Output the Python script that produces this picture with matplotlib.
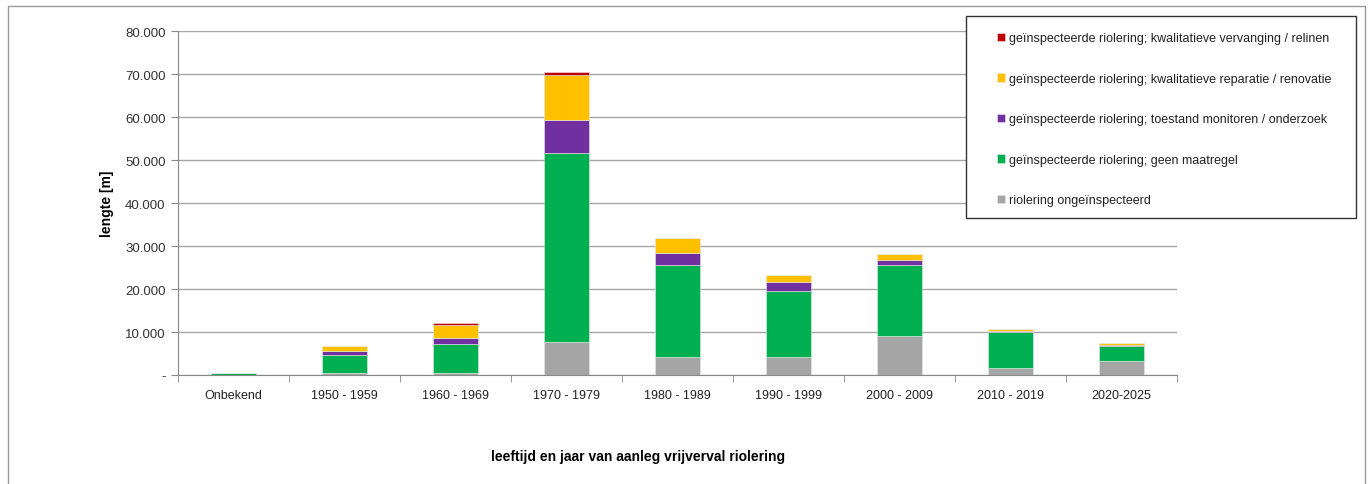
import numpy as np
import matplotlib
matplotlib.use('Agg')
import matplotlib.pyplot as plt
from matplotlib.patches import Rectangle
from matplotlib.ticker import FuncFormatter

plt.rcParams['font.family'] = ['Liberation Sans', 'DejaVu Sans']

# Data (lengte in m)
categories = ['Onbekend', '1950 - 1959', '1960 - 1969', '1970 - 1979', '1980 - 1989',
              '1990 - 1999', '2000 - 2009', '2010 - 2019', '2020-2025']
ongeinspecteerd = [50, 500, 500, 7600, 4100, 4300, 9100, 1550, 3300]
geen_maatregel = [350, 4200, 6700, 44100, 21600, 15200, 16500, 8550, 3500]
monitoren = [0, 900, 1300, 7700, 2800, 2100, 1100, 200, 150]
reparatie = [0, 1100, 3100, 10400, 3300, 1600, 1400, 400, 450]
vervanging = [0, 0, 600, 700, 0, 0, 0, 50, 50]

series = [
    ('riolering ongeïnspecteerd', ongeinspecteerd, '#A5A5A5'),
    ('geïnspecteerde riolering; geen maatregel', geen_maatregel, '#00B050'),
    ('geïnspecteerde riolering; toestand monitoren / onderzoek', monitoren, '#7030A0'),
    ('geïnspecteerde riolering; kwalitatieve reparatie / renovatie', reparatie, '#FFC000'),
    ('geïnspecteerde riolering; kwalitatieve vervanging / relinen', vervanging, '#C00000'),
]

fig = plt.figure(figsize=(13.7, 4.85), dpi=100)
ax = fig.add_axes([0.130, 0.2247, 0.729, 0.709])

x = np.arange(len(categories))
bottom = np.zeros(len(categories))
handles = []
for name, vals, color in series:
    vals = np.array(vals, dtype=float)
    b = ax.bar(x, vals, width=0.41, bottom=bottom, color=color, label=name,
               edgecolor='#e8e8e8', linewidth=0.4, zorder=3)
    handles.append(b)
    bottom += vals

ax.set_xlim(-0.5, len(categories) - 0.5)
ax.set_ylim(0, 80000)
ax.set_yticks(np.arange(0, 80001, 10000))
ax.yaxis.set_major_formatter(FuncFormatter(
    lambda v, p: '-' if v == 0 else f'{int(v):,}'.replace(',', '.')))
ax.grid(axis='y', color='#a6a6a6', linewidth=1.0, zorder=0)

ax.set_xticks(x)
ax.set_xticklabels(categories)
ax.set_xticks(np.arange(-0.5, len(categories), 1), minor=True)
ax.tick_params(axis='x', which='major', length=0, pad=10, labelsize=9, colors='#222222')
ax.tick_params(axis='x', which='minor', length=5, color='#888888')
ax.tick_params(axis='y', length=5, color='#888888', labelsize=9.5, labelcolor='#333333', pad=4)

for s in ['top', 'right']:
    ax.spines[s].set_visible(False)
ax.spines['left'].set_color('#888888')
ax.spines['bottom'].set_color('#888888')

ax.set_ylabel('lengte [m]', fontsize=10, fontweight='bold', labelpad=8)
fig.text(0.466, 0.058, 'leeftijd en jaar van aanleg vrijverval riolering',
         ha='center', va='center', fontsize=10, fontweight='bold')

# legend frame (drawn over the axes, under the legend entries)
fig.patches.append(Rectangle((966 / 1370, 1 - 219 / 485), 390 / 1370, 202 / 485,
                             transform=fig.transFigure, fill=True, facecolor='white',
                             edgecolor='#333333', linewidth=1.0, zorder=4))

# legend: top entry is red, bottom is gray
leg = fig.legend(handles[::-1], [s[0] for s in series][::-1],
                 loc='upper left', bbox_to_anchor=(0.7277, 0.931),
                 frameon=False, fontsize=9.0, handlelength=0.65, handleheight=0.65,
                 handletextpad=0.35, labelspacing=2.28, borderpad=0,
                 borderaxespad=0)
leg.set_zorder(6)
for t in leg.get_texts():
    t.set_color('#222222')

# outer chart border
fig.patches.append(Rectangle((0.006, -0.01), 0.99, 0.995, transform=fig.transFigure,
                             fill=False, edgecolor='#999999', linewidth=1.0))

fig.savefig('out.png', dpi=100)
